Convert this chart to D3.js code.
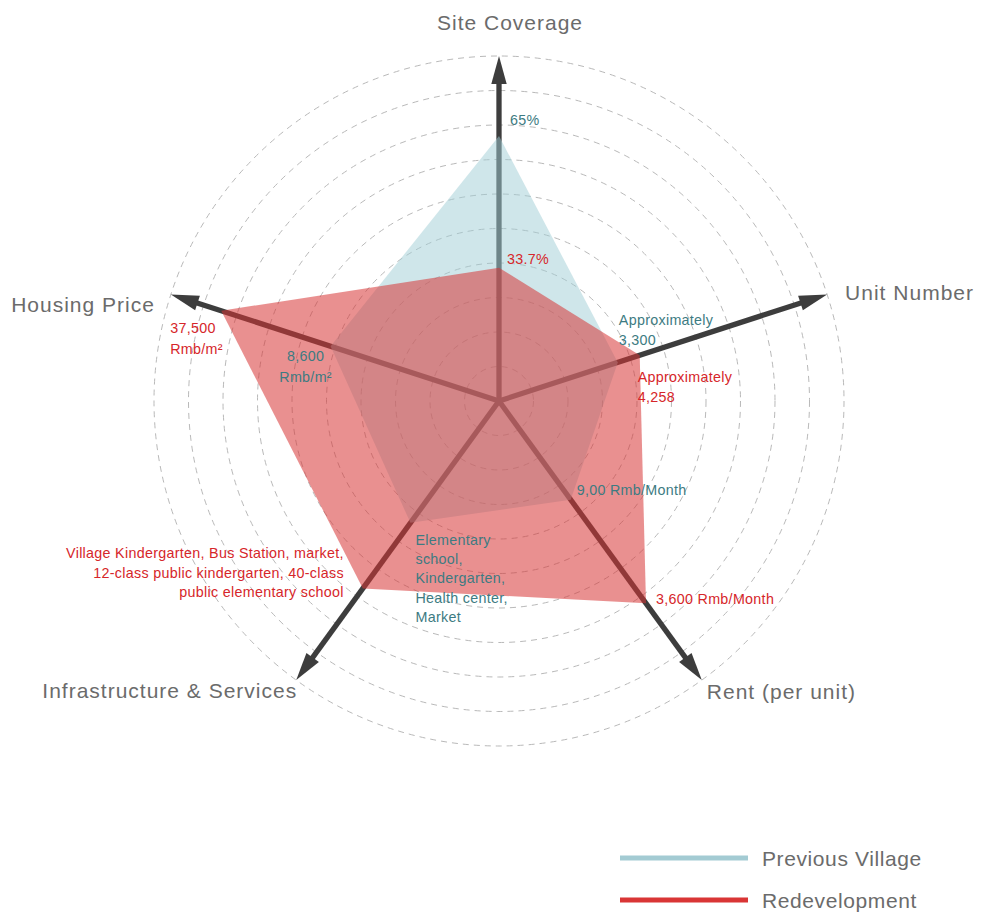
<!DOCTYPE html>
<html>
<head>
<meta charset="utf-8">
<script src="https://cdn.jsdelivr.net/npm/d3@7"></script>
<style>
  html, body { margin: 0; padding: 0; background: #fff; }
  svg { display: block; }
  text { font-family: "Liberation Sans", Arial, sans-serif; }
</style>
</head>
<body>
<svg id="chart" width="982" height="918"></svg>
<script>
// Axes of the radar, clockwise from the top
const axes = ["Site Coverage", "Unit Number", "Rent (per unit)", "Infrastructure & Services", "Housing Price"];

// Values on each axis (%, units, Rmb/month, number of facilities, Rmb/m²)
const previousVillage = [65, 3300, 900, 4, 8600];
const redevelopment   = [33.7, 4258, 3600, 5, 37500];

// Value at the centre and at the outer ring of each axis
const axisMin = [2, -1900, -1670, 2.14, -35900];
const axisMax = [84, 12460, 5600, 6.4, 50800];

// Value labels
const previousLabels = [
  ["65%"],
  ["Approximately", "3,300"],
  ["9,00 Rmb/Month"],
  ["Elementary", "school,", "Kindergarten,", "Health center,", "Market"],
  ["8,600", "Rmb/m²"]
];
const redevelopmentLabels = [
  ["33.7%"],
  ["Approximately", "4,258"],
  ["3,600 Rmb/Month"],
  ["Village Kindergarten, Bus Station, market,", "12-class public kindergarten, 40-class", "public elementary school"],
  ["37,500", "Rmb/m²"]
];

const seriesNames = ["Previous Village", "Redevelopment"];
const ringCount = 10;

// ---- layout ----
const svg = d3.select("#chart");
const cx = 499, cy = 401, R = 345;
const g = svg.append("g").attr("transform", `translate(${cx},${cy})`);

const angle = d3.scalePoint().domain(d3.range(axes.length + 1)).range([-Math.PI / 2, -Math.PI / 2 + 2 * Math.PI]);
const radial = axes.map((a, i) => d3.scaleLinear().domain([axisMin[i], axisMax[i]]).range([0, R]));
const rings = d3.scaleLinear().domain([0, ringCount]).range([0, R]);

const pt = (i, r) => [r * Math.cos(angle(i)), r * Math.sin(angle(i))];

// dashed rings
g.append("g").selectAll("circle")
  .data(d3.range(1, ringCount + 1))
  .join("circle")
  .attr("r", d => rings(d))
  .attr("fill", "none")
  .attr("stroke", "#b9b9b9")
  .attr("stroke-width", 1)
  .attr("stroke-dasharray", "6,5");

// axis arrows
const axisColor = "#3d3d3d";
const headLen = 28, headHalf = 7.7;
const axisG = g.append("g");
axes.forEach((a, i) => {
  const [x1, y1] = pt(i, R - headLen + 2);
  axisG.append("line")
    .attr("x1", 0).attr("y1", 0).attr("x2", x1).attr("y2", y1)
    .attr("stroke", axisColor).attr("stroke-width", 5.3);
  const th = angle(i);
  const tip = pt(i, R);
  const base = pt(i, R - headLen);
  const nx = -Math.sin(th), ny = Math.cos(th);
  const head = [
    tip,
    [base[0] + nx * headHalf, base[1] + ny * headHalf],
    [base[0] - nx * headHalf, base[1] - ny * headHalf]
  ];
  axisG.append("path")
    .attr("d", d3.line()(head) + "Z")
    .attr("fill", axisColor);
});

// polygons
const polyLine = d3.line().curve(d3.curveLinearClosed);
const seriesData = [previousVillage, redevelopment];
const fills = ["#9fcdd6", "#d73535"];
const opac = [0.5, 0.55];
seriesData.forEach((vals, s) => {
  const pts = vals.map((v, i) => pt(i, radial[i](v)));
  g.append("path")
    .attr("d", polyLine(pts))
    .attr("fill", fills[s])
    .attr("fill-opacity", opac[s]);
});

// axis titles, placed from the arrow tips
const titleOffsets = [
  { dx: 11, dy: -26, anchor: "middle" },
  { dx: 18, dy: 6, anchor: "start" },
  { dx: 5, dy: 19, anchor: "start" },
  { dx: 1, dy: 18, anchor: "end" },
  { dx: -16, dy: 18, anchor: "end" }
];
axes.forEach((a, i) => {
  const [x, y] = pt(i, R);
  const o = titleOffsets[i];
  g.append("text")
    .attr("x", x + o.dx).attr("y", y + o.dy)
    .attr("text-anchor", o.anchor)
    .attr("font-size", 21)
    .attr("letter-spacing", 1.0)
    .attr("fill", "#6b6b6b")
    .text(a);
});

// value labels, placed from each polygon vertex
const prevOffsets = [
  { dx: 11, dy: -11, anchor: "start" },
  { dx: 1, dy: -37, anchor: "start" },
  { dx: 6, dy: -5, anchor: "start" },
  { dx: 5, dy: 22, anchor: "start" },
  { dx: -25, dy: 15, anchor: "middle" }
];
const redOffsets = [
  { dx: 8, dy: -4, anchor: "start" },
  { dx: -2, dy: 27, anchor: "start" },
  { dx: 10, dy: 1, anchor: "start" },
  { dx: -19, dy: -30, anchor: "end" },
  { dx: -51, dy: 22, anchor: "start" }
];
const labelColors = ["#3d7b82", "#d6262a"];
const lineGap = 19.3;
[[previousLabels, prevOffsets, previousVillage], [redevelopmentLabels, redOffsets, redevelopment]].forEach(([labels, offs, vals], s) => {
  labels.forEach((lines, i) => {
    const [x, y] = pt(i, radial[i](vals[i]));
    const o = offs[i];
    const t = g.append("text")
      .attr("x", x + o.dx).attr("y", y + o.dy)
      .attr("text-anchor", o.anchor)
      .attr("font-size", 14.3)
      .attr("letter-spacing", 0.3)
      .attr("fill", labelColors[s]);
    lines.forEach((ln, k) => {
      t.append("tspan")
        .attr("x", x + o.dx)
        .attr("dy", k === 0 ? 0 : (i === 1 ? 20 : (i === 4 ? 21 : lineGap)))
        .text(ln);
    });
  });
});

// legend
const legendColors = ["#a3cbd3", "#d93535"];
const legend = svg.append("g").attr("transform", "translate(620,858)");
seriesNames.forEach((name, s) => {
  const row = legend.append("g").attr("transform", `translate(0,${s * 42})`);
  row.append("line")
    .attr("x1", 0).attr("x2", 128).attr("y1", 0).attr("y2", 0)
    .attr("stroke", legendColors[s]).attr("stroke-width", 5);
  row.append("text")
    .attr("x", 142).attr("y", 7.5)
    .attr("font-size", 21)
    .attr("letter-spacing", 0.6)
    .attr("fill", "#6b6b6b")
    .text(name);
});
</script>
</body>
</html>
